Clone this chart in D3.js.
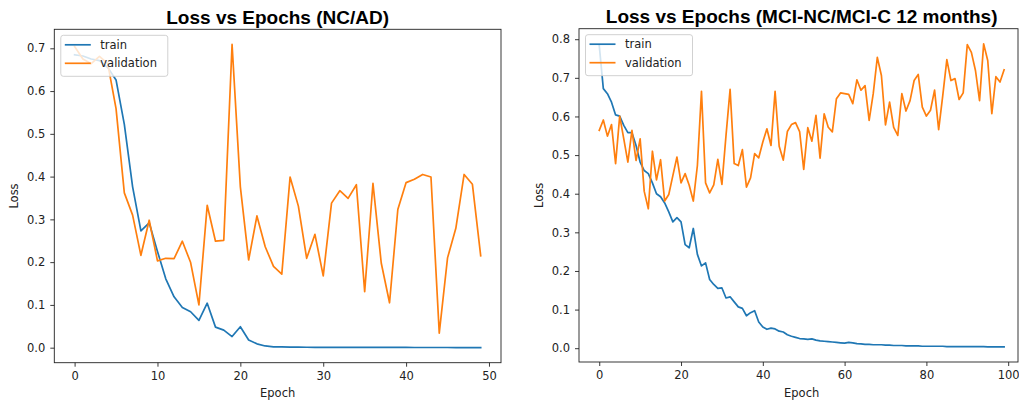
<!DOCTYPE html>
<html>
<head>
<meta charset="utf-8">
<script src="https://cdn.jsdelivr.net/npm/d3@7"></script>
<style>
  body { margin: 0; background: #fff; }
  svg { display: block; }
</style>
</head>
<body>
<svg id="chart" width="1019" height="401"></svg>
<script>
// ---- Data: loss per epoch for the two experiments ----
const epochsNC = d3.range(50);
const trainNC = [
  0.685, 0.682, 0.675, 0.671, 0.655, 0.626, 0.522, 0.376, 0.273, 0.292,
  0.225, 0.161, 0.119, 0.094, 0.084, 0.064, 0.104, 0.048, 0.041, 0.026,
  0.049, 0.018, 0.009, 0.004, 0.002, 0.0018, 0.0014, 0.0012, 0.0010, 0.0009,
  0.0008, 0.0008, 0.0007, 0.0007, 0.0006, 0.0006, 0.0006, 0.0005, 0.0005, 0.0005,
  0.0005, 0.0004, 0.0004, 0.0004, 0.0004, 0.0004, 0.0003, 0.0003, 0.0003, 0.0003
];
const valNC = [
  0.704, 0.675, 0.664, 0.681, 0.664, 0.559, 0.362, 0.310, 0.216, 0.298,
  0.203, 0.209, 0.208, 0.249, 0.199, 0.100, 0.333, 0.249, 0.251, 0.709,
  0.376, 0.205, 0.308, 0.236, 0.190, 0.172, 0.399, 0.331, 0.209, 0.265,
  0.168, 0.338, 0.367, 0.349, 0.381, 0.131, 0.384, 0.198, 0.105, 0.323,
  0.386, 0.394, 0.405, 0.399, 0.034, 0.210, 0.279, 0.405, 0.382, 0.215
];

const epochsMCI = d3.range(100);
const trainMCI = [
  0.784, 0.672, 0.659, 0.637, 0.604, 0.601, 0.577, 0.558, 0.558, 0.525,
  0.482, 0.460, 0.452, 0.428, 0.400, 0.392, 0.376, 0.353, 0.327, 0.338,
  0.327, 0.268, 0.260, 0.310, 0.243, 0.213, 0.221, 0.178, 0.165, 0.155,
  0.156, 0.130, 0.133, 0.120, 0.107, 0.103, 0.084, 0.092, 0.097, 0.068,
  0.055, 0.049, 0.052, 0.050, 0.044, 0.042, 0.035, 0.031, 0.028, 0.025,
  0.024, 0.023, 0.024, 0.021, 0.019, 0.018, 0.017, 0.016, 0.015, 0.014,
  0.013, 0.015, 0.014, 0.012, 0.011, 0.010, 0.010, 0.009, 0.009, 0.009,
  0.008, 0.008, 0.007, 0.007, 0.007, 0.006, 0.006, 0.006, 0.006, 0.005,
  0.005, 0.005, 0.005, 0.005, 0.005, 0.004, 0.004, 0.004, 0.004, 0.004,
  0.004, 0.004, 0.004, 0.004, 0.004, 0.0035, 0.0035, 0.0035, 0.0035, 0.0035
];
const valMCI = [
  0.564, 0.591, 0.549, 0.579, 0.478, 0.601, 0.542, 0.482, 0.564, 0.486,
  0.542, 0.406, 0.361, 0.510, 0.436, 0.488, 0.381, 0.398, 0.447, 0.495,
  0.428, 0.452, 0.422, 0.381, 0.473, 0.665, 0.428, 0.402, 0.423, 0.489,
  0.424, 0.551, 0.670, 0.478, 0.473, 0.514, 0.417, 0.441, 0.504, 0.493,
  0.534, 0.568, 0.525, 0.665, 0.523, 0.487, 0.561, 0.579, 0.584, 0.561,
  0.463, 0.571, 0.536, 0.603, 0.492, 0.607, 0.572, 0.560, 0.646, 0.661,
  0.659, 0.657, 0.633, 0.695, 0.668, 0.680, 0.590, 0.659, 0.753, 0.706,
  0.578, 0.637, 0.572, 0.551, 0.659, 0.614, 0.641, 0.693, 0.709, 0.624,
  0.601, 0.616, 0.668, 0.566, 0.654, 0.747, 0.693, 0.698, 0.644, 0.661,
  0.786, 0.766, 0.719, 0.641, 0.788, 0.745, 0.607, 0.703, 0.689, 0.721
];

const xTicksNC = [0, 10, 20, 30, 40, 50];
const yTicksNC = [0, 0.1, 0.2, 0.3, 0.4, 0.5, 0.6, 0.7];
const xTicksMCI = [0, 20, 40, 60, 80, 100];
const yTicksMCI = [0, 0.1, 0.2, 0.3, 0.4, 0.5, 0.6, 0.7, 0.8];

const seriesNames = ["train", "validation"];
const titles = ["Loss vs Epochs (NC/AD)", "Loss vs Epochs (MCI-NC/MCI-C 12 months)"];

// ---- Styling ----
const COLORS = ["#1f77b4", "#ff7f0e"];
const TICK_FONT = "'DejaVu Sans', sans-serif";
const TITLE_FONT = "'Liberation Sans', Arial, sans-serif";
const FS = 11.5;

const svg = d3.select("#chart");

// 5% padding around the data range, like the usual plotting defaults
function padded(values) {
  const [lo, hi] = d3.extent(values);
  const m = (hi - lo) * 0.05;
  return [lo - m, hi + m];
}

function panel(opts) {
  const { box, epochs, train, val, xTicks, yTicks, title, xDomain } = opts;
  const g = svg.append("g");

  const x = d3.scaleLinear()
    .domain(xDomain || padded(epochs))
    .range([box.x0, box.x1]);
  const y = d3.scaleLinear()
    .domain(padded(train.concat(val)))
    .range([box.y1, box.y0]);

  // Axes
  const xAxis = d3.axisBottom(x).tickValues(xTicks).tickSize(4).tickPadding(5)
    .tickFormat(d3.format("d"));
  const yAxis = d3.axisLeft(y).tickValues(yTicks).tickSize(4).tickPadding(5)
    .tickFormat(d3.format(".1f"));

  const gx = g.append("g").attr("transform", `translate(0,${box.y1})`).call(xAxis);
  const gy = g.append("g").attr("transform", `translate(${box.x0},0)`).call(yAxis);
  [gx, gy].forEach(a => {
    a.select(".domain").remove();
    a.selectAll(".tick line").attr("stroke", "#222").attr("stroke-width", 0.9);
    a.selectAll(".tick text")
      .attr("fill", "#222")
      .style("font-family", TICK_FONT)
      .style("font-size", FS + "px");
  });

  // Lines
  const line = d3.line().x((d, i) => x(epochs[i])).y(d => y(d));
  [train, val].forEach((s, k) => {
    g.append("path")
      .datum(s)
      .attr("fill", "none")
      .attr("stroke", COLORS[k])
      .attr("stroke-width", 1.7)
      .attr("stroke-linejoin", "round")
      .attr("stroke-linecap", "square")
      .attr("d", line);
  });

  // Frame
  g.append("rect")
    .attr("x", box.x0).attr("y", box.y0)
    .attr("width", box.x1 - box.x0).attr("height", box.y1 - box.y0)
    .attr("fill", "none").attr("stroke", "#222").attr("stroke-width", 0.9);

  // Title and axis labels are centred on the full axis span
  const cx = (x(x.domain()[0]) + x(opts.centerMax ?? x.domain()[1])) / 2;

  g.append("text")
    .attr("x", cx)
    .attr("y", box.y0 - 5.5)
    .attr("text-anchor", "middle")
    .style("font-family", TITLE_FONT)
    .style("font-weight", "bold")
    .style("font-size", "19px")
    .attr("fill", "#000")
    .text(title);

  g.append("text")
    .attr("x", cx)
    .attr("y", 397)
    .attr("text-anchor", "middle")
    .style("font-family", TICK_FONT)
    .style("font-size", FS + "px")
    .attr("fill", "#222")
    .text("Epoch");
  g.append("text")
    .attr("transform", `translate(${box.x0 - 36},${(box.y0 + box.y1) / 2}) rotate(-90)`)
    .attr("text-anchor", "middle")
    .style("font-family", TICK_FONT)
    .style("font-size", FS + "px")
    .attr("fill", "#222")
    .text("Loss");

  // Legend, upper left
  const lg = g.append("g").attr("transform", `translate(${box.x0 + 6.5},${box.y0 + 6})`);
  lg.append("rect")
    .attr("width", 107).attr("height", 41).attr("rx", 2.5)
    .attr("fill", "#fff").attr("fill-opacity", 0.8)
    .attr("stroke", "#cccccc").attr("stroke-width", 0.9);
  seriesNames.forEach((name, k) => {
    const yy = 9.5 + k * 18.5;
    lg.append("line")
      .attr("x1", 4).attr("x2", 30).attr("y1", yy).attr("y2", yy)
      .attr("stroke", COLORS[k]).attr("stroke-width", 1.7);
    lg.append("text")
      .attr("x", 39.5).attr("y", yy).attr("dy", "0.36em")
      .style("font-family", TICK_FONT)
      .style("font-size", FS + "px")
      .attr("fill", "#222")
      .text(name);
  });
}

panel({
  box: { x0: 54.3, x1: 501, y0: 29.3, y1: 362.7 },
  epochs: epochsNC, train: trainNC, val: valNC,
  xTicks: xTicksNC, yTicks: yTicksNC, title: titles[0]
});

panel({
  box: { x0: 579, x1: 1018, y0: 28.7, y1: 362 },
  epochs: epochsMCI, train: trainMCI, val: valMCI,
  xTicks: xTicksMCI, yTicks: yTicksMCI, title: titles[1],
  xDomain: [-4.95, 102.4], centerMax: 103.95
});
</script>
</body>
</html>
